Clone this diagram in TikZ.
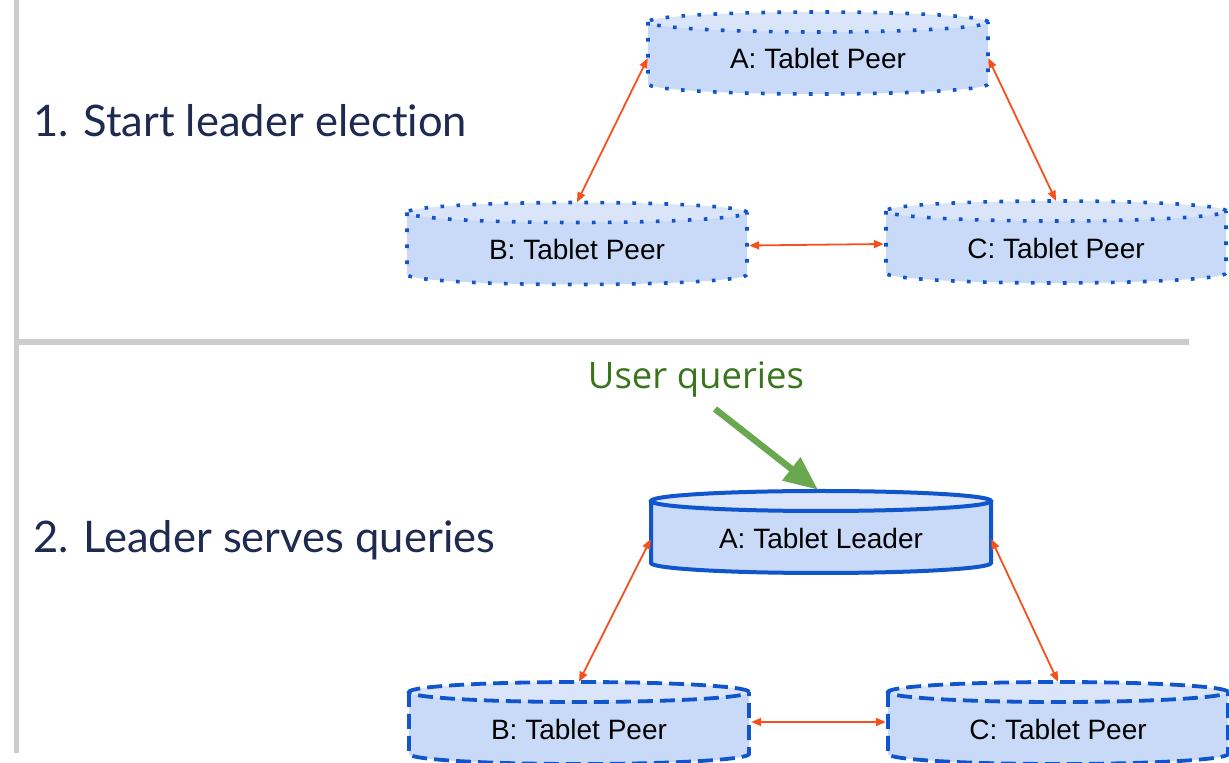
\documentclass[tikz,border=0pt]{standalone}
\usepackage{fontspec}
\setmainfont{Liberation Sans}
\newfontfamily\steplabelfont[Ligatures={NoCommon,NoRare}]{Lato}
\newfontfamily\queryfont{Open Sans}
\usetikzlibrary{arrows.meta,calc}

\definecolor{rule}{HTML}{CCCCCC}
\definecolor{dbline}{HTML}{1155CC}
\definecolor{dbbodyfill}{HTML}{C9DAF8}
\definecolor{dbtopfill}{HTML}{DAE5FA}
\definecolor{link}{HTML}{F4511E}
\definecolor{querygreen}{HTML}{6AA84F}
\definecolor{querytext}{HTML}{38761D}
\definecolor{steptext}{HTML}{1F2A50}

\tikzset{
  dbbox/.style={rectangle, minimum width=340pt, minimum height=82pt, inner sep=0pt},
  dblabel/.style={font=\fontsize{28}{30}\selectfont, text=black, inner sep=0pt},
  peerdotted/.style={draw=dbline, line width=3.6pt, dash pattern=on 3.6pt off 12.4pt},
  peerdashed/.style={draw=dbline, line width=3.8pt, dash pattern=on 15pt off 7pt},
  leadersolid/.style={draw=dbline, line width=4pt},
  peerlink/.style={link, line width=1.8pt, {Triangle[length=10pt,width=8pt]}-{Triangle[length=10pt,width=8pt]}},
  steplabel/.style={anchor=base west, inner sep=0pt, text=steptext, font=\steplabelfont\fontsize{43.5}{50}\selectfont},
}

% database cylinder: #1 name, #2 centre x, #3 centre y, #4 label, #5 outline style
\newcommand\tabletdb[5]{%
  \node[dbbox] (#1) at (#2,#3) {};
  \fill[dbbodyfill] ({#2-170},{#3+31}) -- ({#2-170},{#3-31})
    arc[start angle=180, end angle=360, x radius=170pt, y radius=10pt]
    -- ({#2+170},{#3+31}) -- cycle;
  \fill[dbtopfill] (#2,{#3+31}) ellipse[x radius=170pt, y radius=10pt];
  \draw[#5] (#2,{#3+31}) ellipse[x radius=170pt, y radius=10pt];
  \draw[#5] ({#2-170},{#3+31}) -- ({#2-170},{#3-31})
    arc[start angle=180, end angle=360, x radius=170pt, y radius=10pt]
    -- ({#2+170},{#3+31});
  \node[dblabel] (#1-text) at (#2,{#3-6}) {#4};
}

\begin{document}
\begin{tikzpicture}[x=1pt, y=1pt]
  \useasboundingbox (0,0) rectangle (1229,763);

  % section rules
  \draw[rule, line width=5.5pt] (16.5,763) -- (16.5,10);
  \draw[rule, line width=5.5pt] (14,421) -- (1189,421);

  % step captions
  \node[steplabel] (step1) at (33,626) {1. Start leader election};
  \node[steplabel] (step2) at (33,210) {2. Leader serves queries};

  % 1. election among peers
  \tabletdb{pa}{818}{710}{A: Tablet Peer}{peerdotted}
  \tabletdb{pb}{577}{519.5}{B: Tablet Peer}{peerdotted}
  \tabletdb{pc}{1056}{521}{C: Tablet Peer}{peerdotted}

  \draw[peerlink] ([yshift=-5pt]pa.west) -- (pb.north);
  \draw[peerlink] ([yshift=-5pt]pa.east) -- (pc.north);
  \draw[peerlink] ([xshift=2pt,yshift=-2pt]pb.east) -- ([xshift=-2pt,yshift=-2pt]pc.west);

  % 2. leader serving
  \tabletdb{la}{821}{231}{A: Tablet Leader}{leadersolid}
  \tabletdb{lb}{579}{40}{B: Tablet Peer}{peerdashed}
  \tabletdb{lc}{1058}{40}{C: Tablet Peer}{peerdashed}

  \draw[peerlink] ([yshift=-7pt]la.west) -- (lb.north);
  \draw[peerlink] ([yshift=-7pt]la.east) -- (lc.north);
  \draw[peerlink] ([xshift=2pt,yshift=1pt]lb.east) -- ([xshift=-2pt,yshift=1pt]lc.west);

  % incoming queries
  \node[text=querytext, font=\queryfont\fontsize{36.5}{40}\selectfont, inner sep=0pt] (uq) at (696,384) {User queries};
  \coordinate (uqfoot) at ([xshift=19pt,yshift=-12pt]uq.south);
  \draw[querygreen, line width=6.5pt, -{Triangle[length=34pt,width=28pt]}] (uqfoot) -- ([xshift=-3pt,yshift=1pt]la.north);
\end{tikzpicture}
\end{document}
